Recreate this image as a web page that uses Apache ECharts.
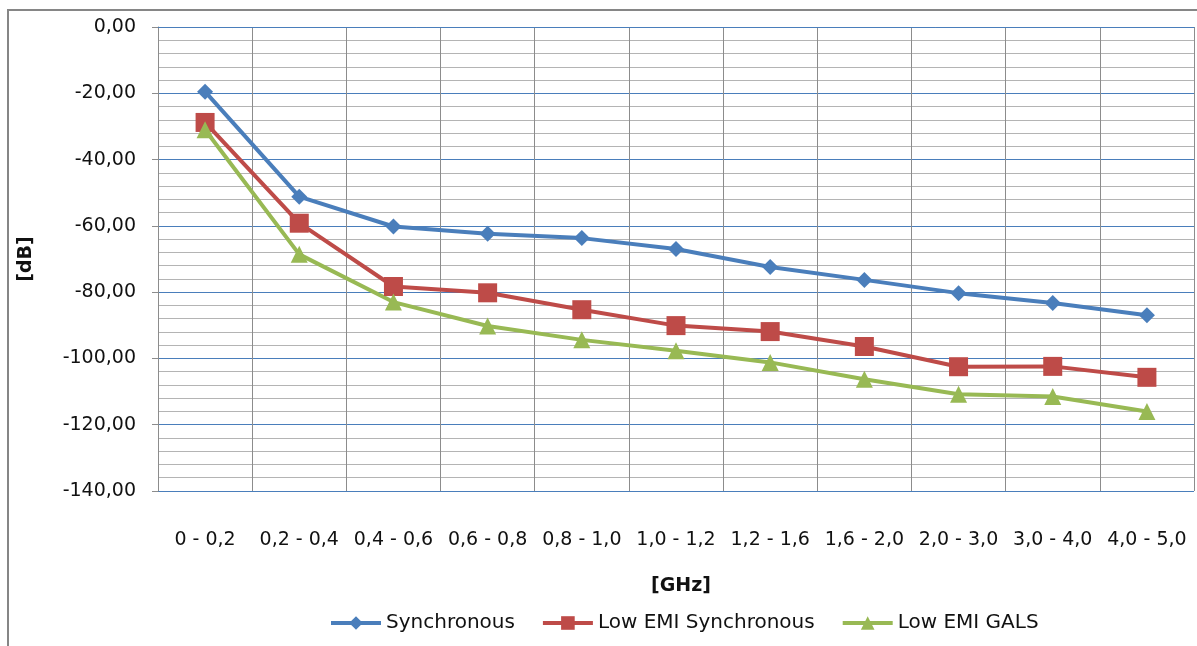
<!DOCTYPE html>
<html>
<head>
<meta charset="utf-8">
<script src="https://cdn.jsdelivr.net/npm/echarts@6/dist/echarts.min.js"></script>
<style>
  html, body { margin: 0; padding: 0; background: #ffffff; }
  #chart { width: 1197px; height: 646px; }
</style>
</head>
<body>
<div id="chart"></div>
<script>
// Frequency bands (GHz)
const bands = ['0 - 0,2', '0,2 - 0,4', '0,4 - 0,6', '0,6 - 0,8', '0,8 - 1,0', '1,0 - 1,2',
               '1,2 - 1,6', '1,6 - 2,0', '2,0 - 3,0', '3,0 - 4,0', '4,0 - 5,0'];

// Emission level per band (dB)
const synchronous       = [-19.5, -51.2, -60.2, -62.4, -63.7, -67.0, -72.4, -76.3, -80.3, -83.3, -87.0];
const lowEmiSynchronous = [-28.8, -59.2, -78.3, -80.2, -85.3, -90.1, -91.9, -96.4, -102.5, -102.4, -105.7];
const lowEmiGals        = [-31.0, -68.6, -83.0, -90.2, -94.4, -97.7, -101.2, -106.3, -110.8, -111.5, -116.0];

const seriesNames = ['Synchronous', 'Low EMI Synchronous', 'Low EMI GALS'];
const colors = ['#4a7ebb', '#be4b48', '#98b954'];

const FONT = '"DejaVu Sans", sans-serif';
const fmt = v => v.toFixed(2).replace('.', ',');

const chart = echarts.init(document.getElementById('chart'), null, { renderer: 'canvas' });

function lineSeries(name, data, color, symbol, size) {
  return {
    name, type: 'line', data,
    symbol, symbolSize: size,
    lineStyle: { color, width: 4 },
    itemStyle: { color },
    emphasis: { disabled: true },
    z: 3
  };
}

chart.setOption({
  animation: false,
  backgroundColor: '#ffffff',
  graphic: [{
    type: 'rect', z: -1,
    shape: { x: 8, y: 10, width: 1200, height: 700 },
    style: { fill: 'none', stroke: '#868686', lineWidth: 2 }
  }],
  grid: { left: 158, right: 3, top: 27, bottom: 155 },
  legend: {
    data: seriesNames,
    left: 324, top: 608,
    itemWidth: 50, itemHeight: 17, itemGap: 26,
    lineStyle: { width: 4 },
    textStyle: { fontFamily: FONT, fontSize: 20, color: '#111' }
  },
  xAxis: {
    type: 'category',
    data: bands,
    boundaryGap: true,
    name: '[GHz]',
    nameLocation: 'middle',
    nameGap: 86,
    nameTextStyle: { fontFamily: FONT, fontSize: 19, fontWeight: 'bold', color: '#111', padding: [0, 0, 0, 10] },
    axisLine: { show: true, lineStyle: { color: '#4a7ebb', width: 1 } },
    axisTick: { show: false },
    axisLabel: { margin: 40, fontFamily: FONT, fontSize: 19, color: '#111', interval: 0 },
    splitLine: { show: true, lineStyle: { color: '#8c8c8c', width: 1 } }
  },
  yAxis: {
    type: 'value',
    min: -140, max: 0, interval: 20,
    name: '[dB]',
    nameLocation: 'middle',
    nameRotate: 90,
    nameGap: 122,
    nameTextStyle: { fontFamily: FONT, fontSize: 19, fontWeight: 'bold', color: '#111' },
    axisLine: { show: true, lineStyle: { color: '#8c8c8c', width: 1 } },
    axisTick: { show: true, length: 6, lineStyle: { color: '#8c8c8c' } },
    axisLabel: { margin: 22, fontFamily: FONT, fontSize: 19, color: '#111', formatter: fmt },
    splitLine: {
      show: true,
      lineStyle: {
        color: ['#4a7ebb', '#4a7ebb', '#4a7ebb', '#4a7ebb', '#4a7ebb', '#4a7ebb', '#4a7ebb', '#a6a6a6'],
        width: 1
      }
    },
    minorTick: { show: false, splitNumber: 5 },
    minorSplitLine: { show: true, lineStyle: { color: '#b4b4b4', width: 1 } }
  },
  series: [
    lineSeries(seriesNames[0], synchronous, colors[0], 'diamond', 16),
    lineSeries(seriesNames[1], lowEmiSynchronous, colors[1], 'rect', 19),
    lineSeries(seriesNames[2], lowEmiGals, colors[2], 'triangle', 17)
  ]
});
</script>
</body>
</html>
